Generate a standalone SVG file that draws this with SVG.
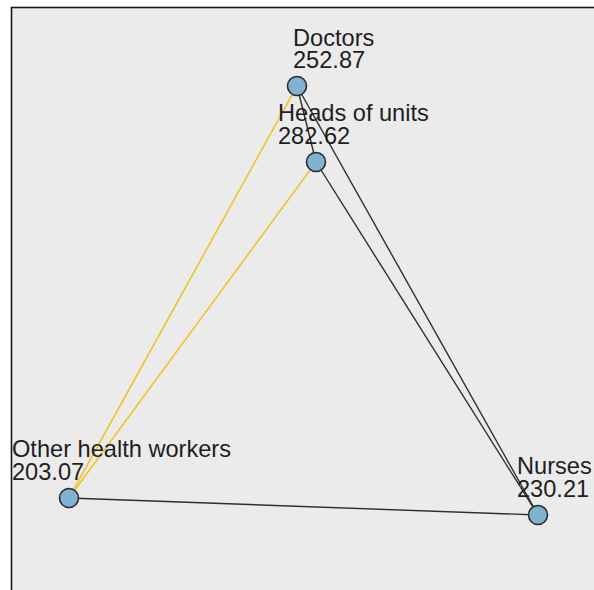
<svg xmlns="http://www.w3.org/2000/svg" width="594" height="590" viewBox="0 0 594 590">
<style>
.lbl{font-family:"Liberation Sans",Arial,sans-serif;font-size:23.6px;fill:#1e1e1e}
.node{fill:#80b3d1;stroke:#2a2a2a;stroke-width:1.6}
.e{stroke:#2e2e2e;stroke-width:1.4;fill:none}
.y{stroke:#efc52d;stroke-width:1.6;fill:none}
</style>
<rect x="0" y="0" width="594" height="590" fill="#ffffff"/>
<rect x="11.5" y="7.5" width="600" height="600" fill="#ebebeb" stroke="#1a1a1a" stroke-width="1.6"/>
<g id="connectors">
<line class="y" x1="297" y1="86" x2="69" y2="498"/>
<line class="y" x1="316" y1="162" x2="69" y2="498"/>
<line class="e" x1="297" y1="86" x2="316" y2="162"/>
<line class="e" x1="297" y1="86" x2="538" y2="515"/>
<line class="e" x1="316" y1="162" x2="538" y2="515"/>
<line class="e" x1="69" y1="498" x2="538" y2="515"/>
</g>
<g id="doctors">
<circle class="node" cx="297" cy="86" r="9.5"/>
<text class="lbl" x="293" y="45.5">Doctors</text>
<text class="lbl" x="293" y="68">252.87</text>
</g>
<g id="heads">
<circle class="node" cx="316" cy="162" r="9.5"/>
<text class="lbl" x="278" y="120.5">Heads of units</text>
<text class="lbl" x="278" y="144">282.62</text>
</g>
<g id="other">
<circle class="node" cx="69" cy="498" r="9.5"/>
<text class="lbl" x="12" y="456.5">Other health workers</text>
<text class="lbl" x="12" y="480">203.07</text>
</g>
<g id="nurses">
<circle class="node" cx="538" cy="515" r="9.5"/>
<text class="lbl" x="517" y="473.5">Nurses</text>
<text class="lbl" x="517" y="497">230.21</text>
</g>
</svg>
